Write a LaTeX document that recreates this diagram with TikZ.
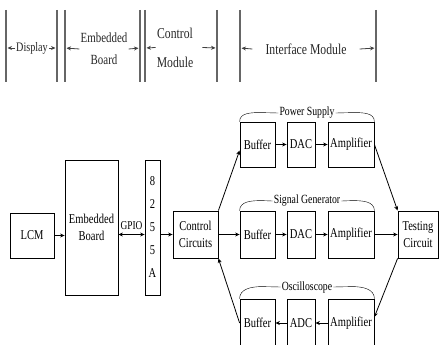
\documentclass[tikz,border=0pt]{standalone}
\usepackage{fontspec}
\setmainfont{Liberation Serif}[FakeStretch=0.78]
\usetikzlibrary{arrows.meta, positioning, calc}

\begin{document}
\begin{tikzpicture}[x=1pt, y=-1pt, >={Stealth[length=4.5pt,width=4pt]},
  font=\fontsize{13.5}{17}\selectfont,
  blk/.style={draw, thick, rectangle, fill=white, inner sep=0pt, align=center},
  hdr/.style={inner sep=1pt, align=center, text=black!85},
  bar/.style={draw=black!60, line width=1.2pt},
  hdrarrow/.style={->, draw=black!75, thick, shorten >=1.5pt},
  lnk/.style={->, thick},
  grp/.style={font=\fontsize{12.5}{14}\selectfont, inner sep=1pt, fill=white}]
\useasboundingbox (0,0) rectangle (439,345);
\clip (0,0) rectangle (439,345);

% module header
\foreach \x [count=\i] in {6,57,65,140,145,217,240,376} {
  \draw[bar] (\x,10) -- (\x,82);
  \coordinate (v\i) at (\x,48);
}
\node[hdr, font=\fontsize{13}{15}\selectfont] (disp) at (32,48) {Display};
\node[hdr, font=\fontsize{14}{22}\selectfont] (emb) at (104,49) {Embedded\\Board};
\node[hdr, font=\fontsize{15}{29}\selectfont] (cmod) at (175,47.5) {Control\\Module};
\node[hdr, font=\fontsize{15}{17}\selectfont] (imod) at (306,49) {Interface Module};
\draw[hdrarrow] (disp.west) -- (v1);
\draw[hdrarrow] (disp.east) -- (v2);
\draw[hdrarrow] (emb.west) -- (v3);
\draw[hdrarrow] (emb.east) -- (v4);
\draw[hdrarrow] (cmod.west) -- (v5);
\draw[hdrarrow] ([xshift=8pt]cmod.east) -- (v6);
\draw[hdrarrow] ([xshift=-12pt]imod.west) -- (v7);
\draw[hdrarrow] ([xshift=12pt]imod.east) -- (v8);

% blocks
\node[blk, minimum width=44pt, minimum height=45pt] (lcm) at (32,235.5) {LCM};
\node[blk, minimum width=53pt, minimum height=135pt] (board) at (91.5,227.5) {Embedded\\Board};
\node[blk, minimum width=15pt, minimum height=135pt, font=\fontsize{13.5}{23}\selectfont] (ppi) at (152.5,227.5) {8\\2\\5\\5\\A};
\node[blk, minimum width=45pt, minimum height=47pt] (ctrl) at (195.5,234.5) {Control\\Circuits};
\node[blk, minimum width=40pt, minimum height=47pt] (test) at (418,234.5) {Testing\\Circuit};

\node[blk, minimum width=35pt, minimum height=45pt] (buf1) at (257.5,144.5) {Buffer};
\node[blk, minimum width=28pt, minimum height=45pt] (dac1) at (301,144.5) {DAC};
\node[blk, minimum width=46pt, minimum height=45pt] (amp1) at (351,144.5) {Amplifier};

\node[blk, minimum width=35pt, minimum height=47pt] (buf2) at (257.5,234.5) {Buffer};
\node[blk, minimum width=28pt, minimum height=47pt] (dac2) at (301,234.5) {DAC};
\node[blk, minimum width=46pt, minimum height=47pt] (amp2) at (351,234.5) {Amplifier};

\node[blk, minimum width=35pt, minimum height=48pt] (buf3) at (257.5,323) {Buffer};
\node[blk, minimum width=28pt, minimum height=48pt] (adc3) at (301,323) {ADC};
\node[blk, minimum width=46pt, minimum height=48pt] (amp3) at (351,323) {Amplifier};

% group labels
\node[grp] (ps) at (307,113) {Power Supply};
\node[grp] (sg) at (307,201) {Signal Generator};
\node[grp] (osc) at (307,287) {Oscilloscope};
\draw (buf1.north west) to[out=90,in=180] ++(22,-9) -- (ps.west);
\draw (amp1.north east) to[out=90,in=0] ++(-22,-9) -- (ps.east);
\draw (buf2.north west) to[out=90,in=180] ++(22,-10) -- (sg.west);
\draw (amp2.north east) to[out=90,in=0] ++(-22,-10) -- (sg.east);
\draw (buf3.north west) to[out=90,in=180] ++(22,-12) -- (osc.west);
\draw (amp3.north east) to[out=90,in=0] ++(-22,-12) -- (osc.east);

% connections
\draw[lnk] (lcm.east) -- (lcm.east -| board.west);
\draw[<->, thick] (board.east |- ctrl) -- (ppi.west |- ctrl) node[midway, above=1pt, font=\fontsize{12}{14}\selectfont] {GPIO};
\draw[lnk] (ppi.east |- ctrl) -- (ctrl.west);
\draw[lnk] (ctrl.north east) -- ([yshift=-6pt]buf1.west);
\draw[lnk] (ctrl.east) -- (buf2.west);
\draw[lnk] (buf3.west) -- (ctrl.south east);
\draw[lnk] (buf1) -- (dac1);
\draw[lnk] (dac1) -- (amp1);
\draw[lnk] (buf2) -- (dac2);
\draw[lnk] (dac2) -- (amp2);
\draw[lnk] (amp3) -- (adc3);
\draw[lnk] (adc3) -- (buf3);
\draw[lnk] (amp1.east) -- (test.north west);
\draw[lnk] (amp2.east) -- (test.west);
\draw[lnk] (test.south west) -- ([yshift=6pt]amp3.east);
\end{tikzpicture}
\end{document}
